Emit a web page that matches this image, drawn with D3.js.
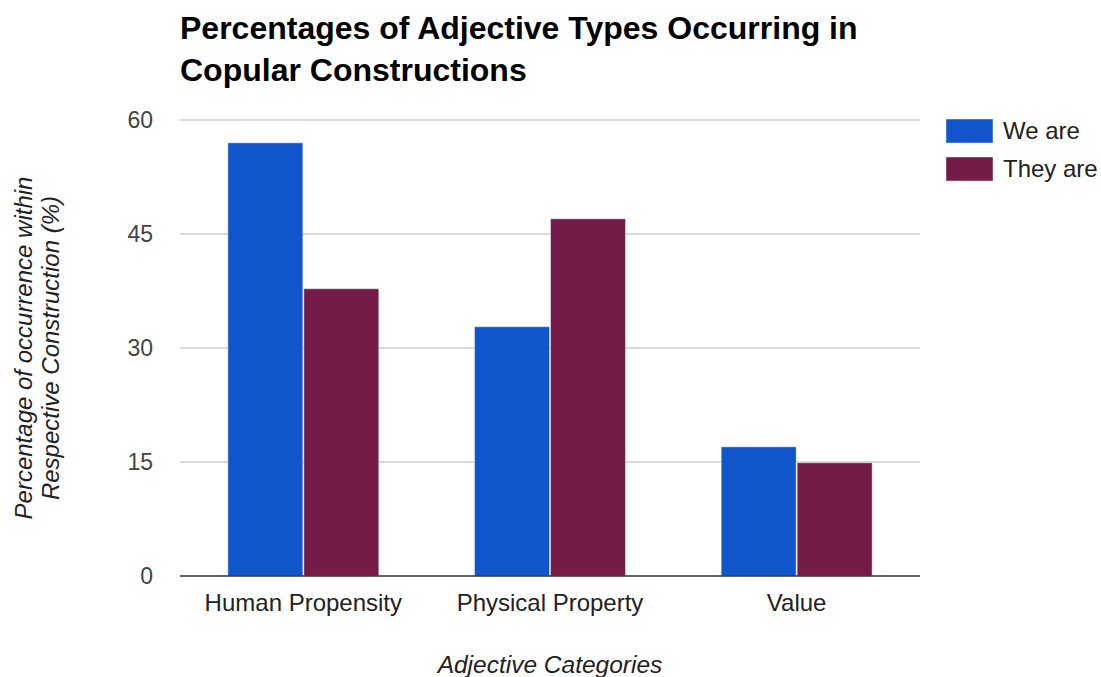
<!DOCTYPE html>
<html>
<head>
<meta charset="utf-8">
<script src="https://cdnjs.cloudflare.com/ajax/libs/d3/7.8.5/d3.min.js"></script>
<style>
  body { margin: 0; background: #fff; }
  svg { font-family: "Liberation Sans", Arial, sans-serif; }
</style>
</head>
<body>
<div id="chart"></div>
<script>
// data
const categories = ["Human Propensity", "Physical Property", "Value"];
const seriesNames = ["We are", "They are"];
const weAre = [57, 32.8, 17];
const theyAre = [37.8, 47, 14.9];
const yTicks = [0, 15, 30, 45, 60];
const seriesColors = ["#1155cc", "#741b47"];

const width = 1101, height = 677;
const margin = {top: 120, right: 181, bottom: 101, left: 180};
const plotW = width - margin.left - margin.right;
const plotH = height - margin.top - margin.bottom;

const svg = d3.select("#chart").append("svg")
    .attr("width", width)
    .attr("height", height);

// title
const title = svg.append("text")
    .attr("x", 180)
    .attr("y", 39)
    .attr("font-size", 32)
    .attr("font-weight", "bold")
    .attr("fill", "#000");
title.append("tspan").attr("x", 180).attr("dy", 0).text("Percentages of Adjective Types Occurring in");
title.append("tspan").attr("x", 180).attr("dy", 42).text("Copular Constructions");

const g = svg.append("g")
    .attr("transform", `translate(${margin.left},${margin.top})`);

const x0 = d3.scaleBand()
    .domain(categories)
    .range([0, plotW])
    .paddingInner(0.384)
    .paddingOuter(0.192);

const x1 = d3.scaleBand()
    .domain(seriesNames)
    .range([0, x0.bandwidth()]);

const y = d3.scaleLinear()
    .domain([0, 60])
    .range([plotH, 0]);

const color = d3.scaleOrdinal().domain(seriesNames).range(seriesColors);

// gridlines
g.selectAll(".grid")
    .data(yTicks.filter(d => d !== 0))
    .enter().append("line")
    .attr("x1", 0)
    .attr("x2", plotW)
    .attr("y1", d => y(d))
    .attr("y2", d => y(d))
    .attr("stroke", "#cccccc")
    .attr("stroke-width", 1.5);

// y tick labels
g.selectAll(".ytick")
    .data(yTicks)
    .enter().append("text")
    .attr("x", -27)
    .attr("y", d => y(d))
    .attr("dy", "0.35em")
    .attr("text-anchor", "end")
    .attr("font-size", 23)
    .attr("fill", "#444")
    .text(d => d);

// bars
const rows = categories.map((c, i) => ({cat: c, values: [weAre[i], theyAre[i]]}));

const groups = g.selectAll(".group")
    .data(rows)
    .enter().append("g")
    .attr("transform", d => `translate(${x0(d.cat)},0)`);

groups.selectAll("rect")
    .data(d => d.values.map((v, j) => ({key: seriesNames[j], value: v})))
    .enter().append("rect")
    .attr("x", d => x1(d.key) + 0.5)
    .attr("y", d => y(d.value))
    .attr("width", x1.bandwidth() - 1)
    .attr("height", d => plotH - y(d.value))
    .attr("fill", d => color(d.key))
    .attr("stroke", "#ffffff")
    .attr("stroke-opacity", 0.45)
    .attr("stroke-width", 1);

// baseline
g.append("line")
    .attr("x1", 0)
    .attr("x2", plotW)
    .attr("y1", plotH)
    .attr("y2", plotH)
    .attr("stroke", "#333")
    .attr("stroke-width", 1.5);

// category labels
g.selectAll(".xlabel")
    .data(categories)
    .enter().append("text")
    .attr("x", d => x0(d) + x0.bandwidth() / 2)
    .attr("y", plotH + 35)
    .attr("text-anchor", "middle")
    .attr("font-size", 24)
    .attr("fill", "#222")
    .text(d => d);

// x axis title
svg.append("text")
    .attr("x", margin.left + plotW / 2)
    .attr("y", 673)
    .attr("text-anchor", "middle")
    .attr("font-size", 24.5)
    .attr("font-style", "italic")
    .attr("fill", "#222")
    .text("Adjective Categories");

// y axis title
const yTitle = svg.append("text")
    .attr("transform", `translate(32,${margin.top + plotH / 2}) rotate(-90)`)
    .attr("text-anchor", "middle")
    .attr("font-size", 24)
    .attr("font-style", "italic")
    .attr("fill", "#222");
yTitle.append("tspan").attr("x", 0).attr("dy", 0).text("Percentage of occurrence within");
yTitle.append("tspan").attr("x", 0).attr("dy", 27).text("Respective Construction (%)");

// legend
const legend = svg.append("g")
    .attr("transform", "translate(946,119)");

const items = legend.selectAll(".item")
    .data(seriesNames)
    .enter().append("g")
    .attr("transform", (d, i) => `translate(0,${i * 38})`);

items.append("rect")
    .attr("width", 47)
    .attr("height", 24)
    .attr("fill", d => color(d))
    .attr("stroke", "#ffffff")
    .attr("stroke-opacity", 0.45);

items.append("text")
    .attr("x", 57)
    .attr("y", 12)
    .attr("dy", "0.35em")
    .attr("font-size", 24)
    .attr("fill", "#222")
    .text(d => d);
</script>
</body>
</html>
